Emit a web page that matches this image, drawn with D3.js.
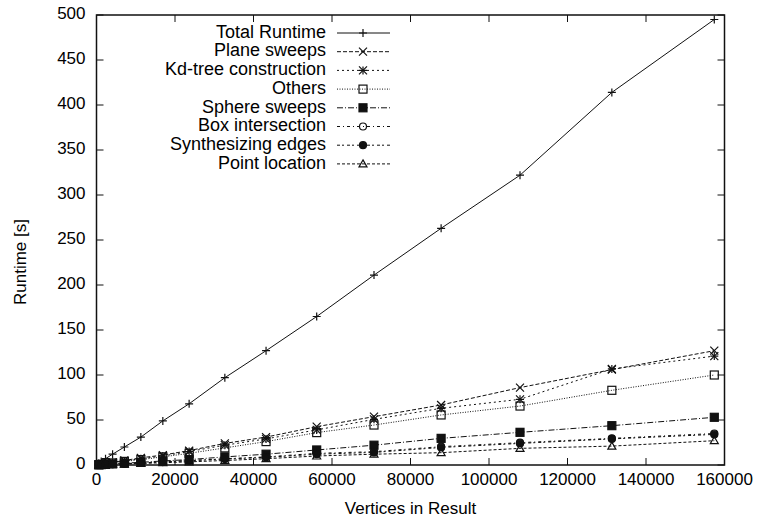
<!DOCTYPE html>
<html>
<head>
<meta charset="utf-8">
<script src="https://cdn.jsdelivr.net/npm/d3@7"></script>
<style>
  body { margin: 0; background: white; }
  svg { display: block; font-family: "Liberation Sans", Arial, sans-serif; }
</style>
</head>
<body>
<div class="container"></div>
<script>
// vertices in result (x)
const vertices = [600, 1200, 2300, 4100, 7100, 11300, 16900, 23600, 32700, 43200, 56100, 70700, 87800, 107900, 131300, 157400];

// runtimes [s]
const totalRuntime = [2, 4, 7, 12, 20, 31, 49, 68, 97, 127, 165, 211, 263, 322, 414, 495];
const planeSweeps = [0.4, 0.9, 1.7, 3, 5, 8, 11, 16, 24, 31, 42.6, 53.7, 66.7, 86, 106, 127];
const kdTree = [0.4, 0.8, 1.5, 2.7, 4.5, 7, 10, 15, 22, 29, 39, 50.7, 63, 73, 106.7, 121];
const others = [0.3, 0.7, 1.3, 2.3, 4, 6, 9, 13, 19, 26, 36, 44.4, 55.6, 65.5, 83, 100];
const sphereSweeps = [0.2, 0.4, 0.7, 1.2, 2, 3, 4.5, 6, 9, 12, 16.7, 22, 29.6, 36.3, 43.7, 53];
const boxIntersection = [0.1, 0.3, 0.5, 0.9, 1.5, 2.3, 3.5, 5, 7, 9, 13, 14.8, 20.4, 24.8, 29.6, 35];
const synthEdges = [0.1, 0.3, 0.5, 0.9, 1.4, 2.2, 3.3, 4.7, 6.6, 8.5, 12, 14, 19.5, 24, 29, 34];
const pointLocation = [0.1, 0.2, 0.4, 0.6, 1, 1.7, 2.5, 3.5, 5, 7, 10, 12, 13.7, 18.5, 21, 27];

const seriesNames = ["Total Runtime", "Plane sweeps", "Kd-tree construction", "Others",
  "Sphere sweeps", "Box intersection", "Synthesizing edges", "Point location"];
const seriesValues = [totalRuntime, planeSweeps, kdTree, others, sphereSweeps, boxIntersection, synthEdges, pointLocation];

const xTicks = [0, 20000, 40000, 60000, 80000, 100000, 120000, 140000, 160000];
const yTicks = [0, 50, 100, 150, 200, 250, 300, 350, 400, 450, 500];

// gnuplot-like line types and point types
const styles = [
  { dash: null, marker: "plus" },
  { dash: "4,2", marker: "cross" },
  { dash: "2,3", marker: "star" },
  { dash: "1,1.5", marker: "box" },
  { dash: "6,2,1,2", marker: "boxfill" },
  { dash: "3,3,1,3", marker: "circle" },
  { dash: "3,2,2,3", marker: "circlefill" },
  { dash: "3,2", marker: "triangle" },
];

d3.select(".container").call(chart);

function chart(container) {
  //size
  const width = 758;
  const height = 523;
  const margin = { left: 96.5, right: 33.5, top: 15, bottom: 58 };
  const innerWidth = width - margin.left - margin.right;
  const innerHeight = height - margin.top - margin.bottom;

  //scale
  const x = d3.scaleLinear().domain([0, 160000]).range([margin.left, margin.left + innerWidth]);
  const y = d3.scaleLinear().domain([0, 500]).range([margin.top + innerHeight, margin.top]);

  const svg = container
    .append("svg")
    .attr("width", width)
    .attr("height", height);

  const fontSize = 17;

  //axes (ticks inward, mirrored)
  const gAxes = svg.append("g").attr("stroke", "#111").attr("stroke-width", 1);
  const tl = 7;
  xTicks.forEach((t) => {
    gAxes.append("line").attr("x1", x(t)).attr("x2", x(t)).attr("y1", y(0)).attr("y2", y(0) - tl);
    gAxes.append("line").attr("x1", x(t)).attr("x2", x(t)).attr("y1", y(500)).attr("y2", y(500) + tl);
  });
  yTicks.forEach((t) => {
    gAxes.append("line").attr("x1", x(0)).attr("x2", x(0) + tl).attr("y1", y(t)).attr("y2", y(t));
    gAxes.append("line").attr("x1", x(160000)).attr("x2", x(160000) - tl).attr("y1", y(t)).attr("y2", y(t));
  });

  svg
    .selectAll("text.xtick")
    .data(xTicks)
    .join("text")
    .attr("class", "xtick")
    .attr("x", (d) => x(d))
    .attr("y", y(0) + 16)
    .attr("text-anchor", "middle")
    .attr("dominant-baseline", "middle")
    .attr("font-size", fontSize)
    .text((d) => d);

  svg
    .selectAll("text.ytick")
    .data(yTicks)
    .join("text")
    .attr("class", "ytick")
    .attr("x", x(0) - 11)
    .attr("y", (d) => y(d))
    .attr("text-anchor", "end")
    .attr("dominant-baseline", "middle")
    .attr("font-size", fontSize)
    .text((d) => d);

  svg
    .append("text")
    .attr("x", margin.left + innerWidth / 2)
    .attr("y", 510)
    .attr("text-anchor", "middle")
    .attr("dominant-baseline", "middle")
    .attr("font-size", fontSize)
    .text("Vertices in Result");

  svg
    .append("text")
    .attr("transform", `translate(22,262) rotate(-90)`)
    .attr("text-anchor", "middle")
    .attr("dominant-baseline", "middle")
    .attr("font-size", fontSize)
    .text("Runtime [s]");

  //lines
  const line = d3
    .line()
    .x((d) => x(d[0]))
    .y((d) => y(d[1]));

  const gLines = svg.append("g");
  seriesValues.forEach((vals, i) => {
    const pts = vertices.map((v, j) => [v, vals[j]]);
    gLines
      .append("path")
      .attr("d", line(pts))
      .attr("fill", "none")
      .attr("stroke", "#111")
      .attr("stroke-width", 1)
      .attr("stroke-dasharray", styles[i].dash);
    gLines
      .selectAll(null)
      .data(pts)
      .join("g")
      .attr("transform", (d) => `translate(${x(d[0])},${y(d[1])})`)
      .call(marker, styles[i].marker);
  });

  //border
  svg
    .append("rect")
    .attr("x", margin.left)
    .attr("y", margin.top)
    .attr("width", innerWidth)
    .attr("height", innerHeight)
    .attr("fill", "none")
    .attr("stroke", "#111")
    .attr("stroke-width", 1.5);

  //legend
  const gLegend = svg.append("g");
  const rowH = 18.7;
  seriesNames.forEach((name, i) => {
    const yy = 33 + i * rowH;
    gLegend
      .append("text")
      .attr("x", 326)
      .attr("y", yy)
      .attr("text-anchor", "end")
      .attr("dominant-baseline", "middle")
      .attr("font-size", 18)
      .text(name);
    gLegend
      .append("line")
      .attr("x1", 337)
      .attr("x2", 390)
      .attr("y1", yy)
      .attr("y2", yy)
      .attr("stroke", "#111")
      .attr("stroke-width", 1)
      .attr("stroke-dasharray", styles[i].dash);
    gLegend
      .append("g")
      .attr("transform", `translate(363,${yy})`)
      .call(marker, styles[i].marker);
  });
}

function marker(g, type) {
  const s = 4;
  const stroke = "#111";
  g.each(function () {
    const m = d3.select(this);
    if (type === "plus" || type === "star") {
      m.append("path").attr("d", `M${-s},0H${s}M0,${-s}V${s}`).attr("stroke", stroke).attr("stroke-width", 1.2);
    }
    if (type === "cross" || type === "star") {
      m.append("path").attr("d", `M${-s},${-s}L${s},${s}M${-s},${s}L${s},${-s}`).attr("stroke", stroke).attr("stroke-width", 1.2);
    }
    if (type === "box" || type === "boxfill") {
      m.append("rect")
        .attr("x", -s).attr("y", -s).attr("width", 2 * s).attr("height", 2 * s)
        .attr("fill", type === "boxfill" ? stroke : "none")
        .attr("stroke", stroke).attr("stroke-width", 1.2);
    }
    if (type === "circle" || type === "circlefill") {
      m.append("circle")
        .attr("r", s - 0.5)
        .attr("fill", type === "circlefill" ? stroke : "none")
        .attr("stroke", stroke).attr("stroke-width", 1.2);
    }
    if (type === "triangle") {
      m.append("path")
        .attr("d", `M0,${-s}L${s},${s - 1}L${-s},${s - 1}Z`)
        .attr("fill", "none")
        .attr("stroke", stroke).attr("stroke-width", 1.2);
    }
  });
}
</script>
</body>
</html>
